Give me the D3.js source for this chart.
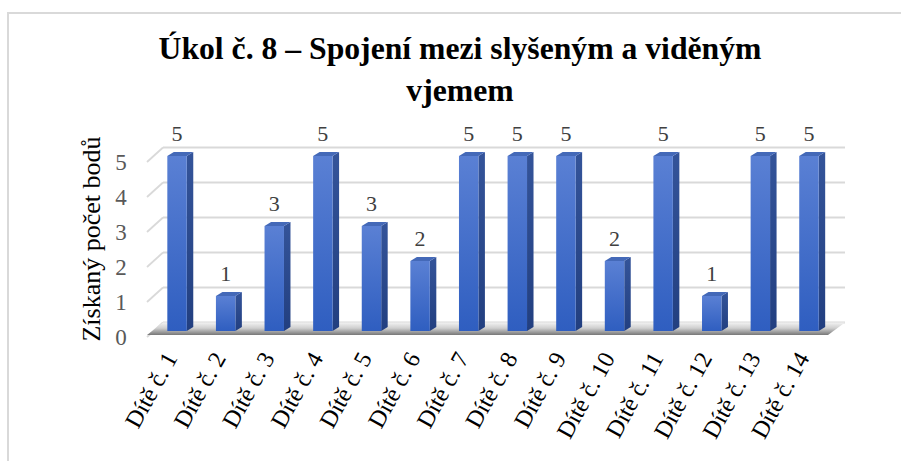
<!DOCTYPE html>
<html>
<head>
<meta charset="utf-8">
<script src="https://cdn.jsdelivr.net/npm/d3@7"></script>
<style>
  html, body { margin: 0; padding: 0; background: #fff; }
  svg { display: block; }
</style>
</head>
<body>
<svg id="chart" width="901" height="461"></svg>
<script>
const categories = ["Dítě č. 1","Dítě č. 2","Dítě č. 3","Dítě č. 4","Dítě č. 5","Dítě č. 6","Dítě č. 7","Dítě č. 8","Dítě č. 9","Dítě č. 10","Dítě č. 11","Dítě č. 12","Dítě č. 13","Dítě č. 14"];
const values = [5, 1, 3, 5, 3, 2, 5, 5, 5, 2, 5, 1, 5, 5];
const yTicks = [0, 1, 2, 3, 4, 5];
const titleLines = ["Úkol č. 8 – Spojení mezi slyšeným a viděným", "vjemem"];
const yTitle = "Získaný počet bodů";

const FONT = "'Liberation Serif', 'Times New Roman', 'DejaVu Serif', serif";
const svg = d3.select("#chart").attr("font-family", FONT);

// frame
svg.append("path")
  .attr("d", "M8,470 L8,13 L905,13")
  .attr("fill", "none").attr("stroke", "#d9d9d9").attr("stroke-width", 2);

const x = d3.scaleBand().domain(categories).range([147, 839]).paddingInner(0.6).paddingOuter(0.418);
const y = d3.scaleLinear().domain([0, 5]).range([331, 156]);

const frontDy = 6, backDy = -8.5;
const backX0 = 163, backX1 = 845, frontX0 = 147, frontX1 = 828;
const depthX = 6.5, depthY = -4;

const defs = svg.append("defs");
const gFront = defs.append("linearGradient").attr("id", "gFront").attr("x1", 0).attr("y1", 0).attr("x2", 0).attr("y2", 1);
gFront.append("stop").attr("offset", "0%").attr("stop-color", "#5a80d4");
gFront.append("stop").attr("offset", "100%").attr("stop-color", "#2f5ec0");
const gSide = defs.append("linearGradient").attr("id", "gSide").attr("x1", 0).attr("y1", 0).attr("x2", 0).attr("y2", 1);
gSide.append("stop").attr("offset", "0%").attr("stop-color", "#34549a");
gSide.append("stop").attr("offset", "100%").attr("stop-color", "#223f80");
const gFloor = defs.append("linearGradient").attr("id", "gFloor").attr("x1", 0).attr("y1", 0).attr("x2", 0).attr("y2", 1);
gFloor.append("stop").attr("offset", "0%").attr("stop-color", "#f2f2f2");
gFloor.append("stop").attr("offset", "45%").attr("stop-color", "#cfcfcf");
gFloor.append("stop").attr("offset", "100%").attr("stop-color", "#777777");

// back wall gridlines + side diagonals
const grid = svg.append("g");
yTicks.forEach(t => {
  const yb = y(t) + backDy, yf = y(t) + frontDy;
  grid.append("line").attr("x1", backX0).attr("x2", backX1).attr("y1", yb).attr("y2", yb)
    .attr("stroke", "#d9d9d9").attr("stroke-width", 1.8);
  grid.append("line").attr("x1", frontX0).attr("y1", yf).attr("x2", backX0).attr("y2", yb)
    .attr("stroke", "#d9d9d9").attr("stroke-width", 1.8);
});

// floor
const yf0 = y(0) + 4, yb0 = y(0) + backDy;
svg.append("path")
  .attr("d", `M${frontX0},${yf0} L${frontX1},${yf0} L${backX1},${yb0} L${backX0},${yb0} Z`)
  .attr("fill", "url(#gFloor)");

// bars
const bars = svg.append("g");
categories.forEach((c, i) => {
  const v = values[i];
  const x0 = x(c), w = x.bandwidth(), yt = y(v), yb = y(0);
  bars.append("path")
    .attr("d", `M${x0 + w},${yb} L${x0 + w + depthX},${yb + depthY} L${x0 + w + depthX},${yt + depthY} L${x0 + w},${yt} Z`)
    .attr("fill", "url(#gSide)");
  bars.append("path")
    .attr("d", `M${x0},${yt} L${x0 + depthX},${yt + depthY} L${x0 + w + depthX},${yt + depthY} L${x0 + w},${yt} Z`)
    .attr("fill", "#4469b8");
  bars.append("rect")
    .attr("x", x0).attr("y", yt).attr("width", w).attr("height", yb - yt)
    .attr("fill", "url(#gFront)");
  svg.append("text")
    .attr("x", x0 + w / 2).attr("y", yt - 15)
    .attr("text-anchor", "middle").attr("font-size", 22).attr("fill", "#404040")
    .text(v);
});

// y tick labels
yTicks.forEach(t => {
  svg.append("text")
    .attr("x", 121).attr("y", y(t) + frontDy).attr("dy", "0.35em")
    .attr("text-anchor", "middle").attr("font-size", 23).attr("fill", "#595959")
    .text(t);
});

// x labels
categories.forEach(c => {
  const cx = x(c) + x.bandwidth() / 2 + 1, cy = 358;
  svg.append("text")
    .attr("transform", `translate(${cx},${cy}) rotate(-61)`)
    .attr("text-anchor", "end").attr("font-size", 24).attr("fill", "#000")
    .text(c);
});

// y title
svg.append("text")
  .attr("transform", `translate(100,239) rotate(-90)`)
  .attr("text-anchor", "middle").attr("font-size", 26).attr("fill", "#000")
  .text(yTitle);

// title
titleLines.forEach((l, i) => {
  svg.append("text")
    .attr("x", 460).attr("y", 59 + i * 42)
    .attr("text-anchor", "middle").attr("font-size", 31.7).attr("font-weight", "bold").attr("fill", "#000")
    .text(l);
});
</script>
</body>
</html>
